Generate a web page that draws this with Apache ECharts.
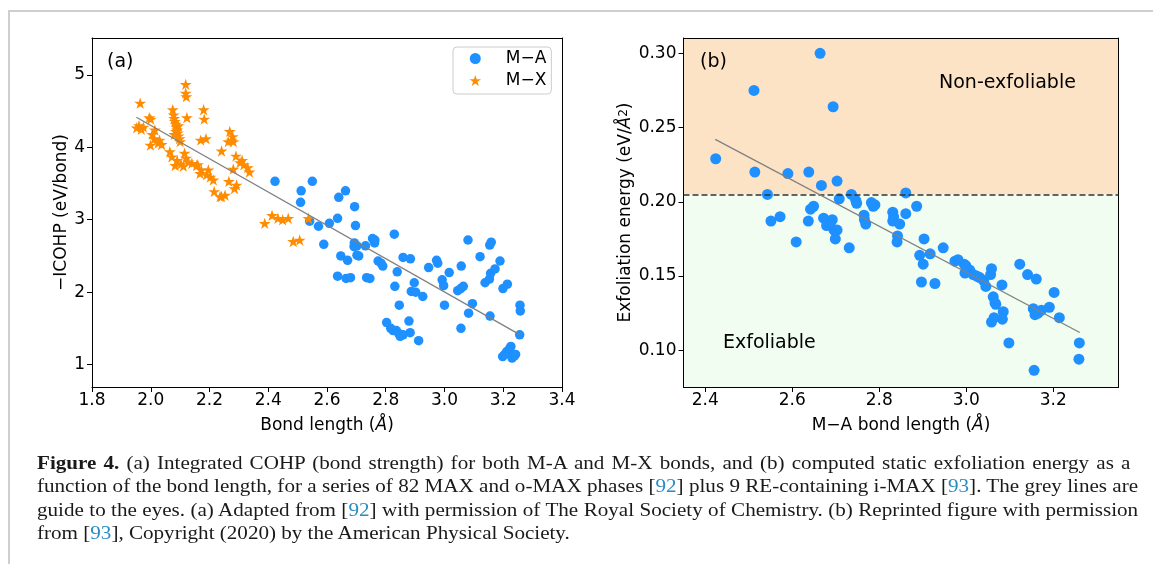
<!DOCTYPE html>
<html><head><meta charset="utf-8">
<script src="https://cdn.jsdelivr.net/npm/echarts@6/dist/echarts.min.js"></script>
<style>
html,body{margin:0;padding:0;background:#fff;}
#wrap{position:relative;width:1153px;height:564px;overflow:hidden;background:#fff;}
#chart{position:absolute;left:0;top:0;width:1153px;height:564px;}
#frameTop{position:absolute;left:8px;top:10px;width:1145px;height:0;border-top:2px solid #cfcfcf;}
#frameLeft{position:absolute;left:8px;top:10px;width:0;height:554px;border-left:2px solid #cfcfcf;}
#caption{position:absolute;left:37px;top:451px;width:992px;font-family:'Liberation Serif','DejaVu Serif',serif;font-size:19px;line-height:23.4px;color:#1a1a1a;transform:scaleX(1.11);transform-origin:0 0;}
#caption .ln{text-align:justify;text-align-last:justify;}
#caption .first{width:985px;}
#caption .last{text-align:left;text-align-last:left;}
#caption .r{color:#2b8cc4;}
</style></head>
<body>
<div id="wrap">
<div id="chart"></div>
<div id="frameTop"></div>
<div id="frameLeft"></div>
<div id="caption">
<div class="ln first"><b>Figure 4.</b> (a) Integrated COHP (bond strength) for both M-A and M-X bonds, and (b) computed static exfoliation energy as a</div>
<div class="ln">function of the bond length, for a series of 82 MAX and o-MAX phases [<span class="r">92</span>] plus 9 RE-containing i-MAX [<span class="r">93</span>]. The grey lines are</div>
<div class="ln">guide to the eyes. (a) Adapted from [<span class="r">92</span>] with permission of The Royal Society of Chemistry. (b) Reprinted figure with permission</div>
<div class="ln last">from [<span class="r">93</span>], Copyright (2020) by the American Physical Society.</div>
</div>
</div>
<script>
// ---- data ----
const seriesNames = ['M\u2212A', 'M\u2212X'];
const icohpMA = [[2.423,3.53],[2.512,3.40],[2.510,3.24],[2.550,3.53],[2.541,2.98],[2.571,2.91],[2.589,2.66],[2.608,2.95],[2.636,3.02],[2.640,3.31],[2.663,3.40],[2.647,2.50],[2.670,2.44],[2.636,2.22],[2.665,2.19],[2.680,2.20],[2.694,3.18],[2.697,2.92],[2.693,2.68],[2.702,2.64],[2.692,2.63],[2.702,2.51],[2.708,2.50],[2.731,2.64],[2.735,2.20],[2.746,2.19],[2.755,2.74],[2.762,2.68],[2.763,2.72],[2.774,2.43],[2.784,2.40],[2.790,2.36],[2.829,2.80],[2.831,2.08],[2.839,2.28],[2.846,1.82],[2.803,1.58],[2.817,1.50],[2.825,1.47],[2.836,1.47],[2.844,1.43],[2.849,1.39],[2.859,1.41],[2.879,1.60],[2.883,1.44],[2.859,2.48],[2.884,2.46],[2.897,2.13],[2.887,2.01],[2.902,2.00],[2.912,1.33],[2.926,1.94],[2.946,2.34],[2.973,2.44],[2.977,2.40],[2.992,2.17],[2.997,2.09],[3.000,1.82],[3.016,2.27],[3.045,2.02],[3.055,2.05],[3.064,2.08],[3.057,2.36],[3.056,1.50],[3.080,2.72],[3.082,1.71],[3.095,1.84],[3.121,2.49],[3.138,2.13],[3.153,2.18],[3.157,2.26],[3.172,2.32],[3.154,2.65],[3.159,2.69],[3.155,1.67],[3.189,2.43],[3.199,2.05],[3.214,2.11],[3.256,1.41],[3.257,1.82],[3.258,1.74],[3.198,1.11],[3.205,1.14],[3.212,1.18],[3.222,1.22],[3.226,1.25],[3.230,1.09],[3.238,1.12],[3.242,1.14]];
const icohpMX = [[1.964,4.61],[1.952,4.27],[1.960,4.30],[1.968,4.25],[1.975,4.28],[1.995,4.41],[2.000,4.39],[2.014,4.24],[2.005,4.18],[1.999,4.03],[2.012,4.12],[2.030,4.10],[2.037,4.04],[2.025,4.06],[2.075,4.52],[2.078,4.45],[2.080,4.40],[2.082,4.36],[2.085,4.32],[2.088,4.28],[2.090,4.24],[2.092,4.20],[2.095,4.16],[2.098,4.12],[2.100,4.08],[2.086,4.22],[2.094,4.30],[2.080,4.18],[2.119,4.87],[2.119,4.75],[2.121,4.70],[2.123,4.41],[2.180,4.52],[2.182,4.39],[2.170,4.10],[2.188,4.12],[2.065,3.94],[2.072,3.87],[2.083,3.75],[2.090,3.82],[2.103,3.77],[2.115,3.92],[2.120,3.85],[2.128,3.80],[2.111,3.74],[2.140,3.78],[2.156,3.75],[2.160,3.76],[2.172,3.69],[2.168,3.64],[2.190,3.62],[2.196,3.69],[2.203,3.59],[2.213,3.55],[2.241,3.95],[2.269,4.22],[2.275,4.10],[2.264,4.08],[2.281,4.08],[2.279,4.15],[2.290,3.88],[2.304,3.79],[2.311,3.82],[2.317,3.76],[2.330,3.72],[2.336,3.66],[2.281,3.70],[2.216,3.39],[2.241,3.32],[2.253,3.34],[2.236,3.32],[2.266,3.53],[2.285,3.43],[2.292,3.48],[2.388,2.95],[2.413,3.06],[2.433,3.02],[2.449,3.00],[2.468,3.02],[2.485,2.70],[2.507,2.72],[2.537,3.02]];
const exfoliation = [[2.664,0.300],[2.512,0.275],[2.694,0.264],[2.424,0.229],[2.514,0.220],[2.590,0.219],[2.638,0.220],[2.667,0.211],[2.703,0.214],[2.543,0.205],[2.736,0.205],[2.708,0.202],[2.746,0.201],[2.748,0.199],[2.782,0.1995],[2.786,0.197],[2.790,0.198],[2.861,0.206],[2.886,0.197],[2.861,0.192],[2.831,0.193],[2.833,0.190],[2.831,0.187],[2.847,0.185],[2.842,0.177],[2.841,0.173],[2.551,0.187],[2.572,0.190],[2.609,0.173],[2.637,0.187],[2.642,0.195],[2.649,0.197],[2.672,0.189],[2.679,0.184],[2.692,0.188],[2.696,0.181],[2.699,0.175],[2.703,0.181],[2.688,0.186],[2.731,0.169],[2.765,0.191],[2.766,0.188],[2.769,0.185],[2.893,0.164],[2.901,0.158],[2.897,0.146],[2.903,0.175],[2.917,0.165],[2.928,0.145],[2.947,0.169],[2.974,0.160],[2.981,0.161],[2.995,0.158],[2.999,0.157],[2.997,0.152],[3.008,0.154],[3.016,0.151],[3.024,0.150],[3.031,0.149],[3.040,0.147],[3.045,0.143],[3.056,0.151],[3.058,0.155],[3.062,0.136],[3.066,0.132],[3.068,0.131],[3.064,0.122],[3.058,0.119],[3.085,0.126],[3.083,0.121],[3.082,0.144],[3.098,0.105],[3.123,0.158],[3.141,0.151],[3.161,0.148],[3.154,0.128],[3.158,0.124],[3.165,0.125],[3.173,0.127],[3.191,0.129],[3.202,0.139],[3.214,0.122],[3.156,0.0865],[3.260,0.105],[3.259,0.094]];
const guideA = [[1.951,4.415],[3.256,1.413]];
const guideB = [[2.423,0.242],[3.261,0.112]];
const threshold = 0.205;
const xRangeA = [1.8, 3.4];
const yRangeA = [0.69, 5.51];
const xRangeB = [2.35, 3.35];
const yRangeB = [0.0753, 0.3103];
const xTicksA = [1.8, 2.0, 2.2, 2.4, 2.6, 2.8, 3.0, 3.2, 3.4];
const yTicksA = [1, 2, 3, 4, 5];
const xTicksB = [2.4, 2.6, 2.8, 3.0, 3.2];
const yTicksB = [0.10, 0.15, 0.20, 0.25, 0.30];

// ---- styling / layout ----
const FONT = 'DejaVu Sans';
const starPath = 'path://M0,-100L22.45,-30.9L95.11,-30.9L36.33,11.8L58.78,80.9L0,38.2L-58.78,80.9L-36.33,11.8L-95.11,-30.9L-22.45,-30.9Z';
const lblStyle = {fontFamily: FONT, fontSize: 17, color: '#000'};
const nameStyle = {fontFamily: FONT, fontSize: 17, color: '#000',
  rich: {it: {fontFamily: FONT, fontSize: 17, fontStyle: 'italic', color: '#000'},
         sup: {fontFamily: FONT, fontSize: 12, color: '#000', verticalAlign: 'top'}}};
const lineBlack = {show: true, lineStyle: {color: '#000', width: 1}};

function mainX(grid, range, ticks, dec, name) {
  return {type: 'value', gridIndex: grid, position: 'bottom', min: range[0], max: range[1], z: 3,
    axisLine: lineBlack, splitLine: {show: false},
    axisTick: {show: true, inside: false, length: 5, lineStyle: {color: '#000', width: 1}, customValues: ticks},
    axisLabel: Object.assign({show: true, margin: 5, customValues: ticks, formatter: v => Number(v).toFixed(dec)}, lblStyle),
    name: name, nameLocation: 'middle', nameGap: 30, nameTextStyle: nameStyle};
}
function mainY(grid, range, ticks, dec, name, gap) {
  return {type: 'value', gridIndex: grid, position: 'left', min: range[0], max: range[1], z: 3,
    axisLine: lineBlack, splitLine: {show: false},
    axisTick: {show: true, inside: false, length: 5, lineStyle: {color: '#000', width: 1}, customValues: ticks},
    axisLabel: Object.assign({show: true, margin: 7, customValues: ticks, formatter: v => Number(v).toFixed(dec)}, lblStyle),
    name: name, nameLocation: 'middle', nameRotate: 90, nameGap: gap, nameTextStyle: nameStyle};
}
function frameAxis(kind, grid, range) {
  return {type: 'value', gridIndex: grid, position: kind === 'x' ? 'top' : 'right', min: range[0], max: range[1], z: 3,
    axisLine: lineBlack, axisTick: {show: false}, axisLabel: {show: false}, splitLine: {show: false}};
}

const chart = echarts.init(document.getElementById('chart'), null, {renderer: 'canvas'});
chart.setOption({
  animation: false,
  backgroundColor: 'transparent',
  grid: [
    {left: 92, top: 38, width: 470, height: 349, containLabel: false},
    {left: 683.5, top: 38, width: 435, height: 349, containLabel: false}
  ],
  xAxis: [
    mainX(0, xRangeA, xTicksA, 1, 'Bond length ({it|\u00C5})'),
    frameAxis('x', 0, xRangeA),
    mainX(1, xRangeB, xTicksB, 1, 'M\u2212A bond length ({it|\u00C5})'),
    frameAxis('x', 1, xRangeB)
  ],
  yAxis: [
    mainY(0, yRangeA, yTicksA, 0, '\u2212ICOHP (eV/bond)', 15),
    frameAxis('y', 0, yRangeA),
    mainY(1, yRangeB, yTicksB, 2, 'Exfoliation energy (eV/{it|\u00C5}{sup|2})', 49),
    frameAxis('y', 1, yRangeB)
  ],
  legend: {
    data: [{name: seriesNames[0], icon: 'circle'}, {name: seriesNames[1], icon: starPath}],
    orient: 'vertical', left: 453, top: 47, selectedMode: false,
    itemWidth: 14, itemHeight: 11, itemGap: 5, symbolKeepAspect: true,
    padding: [3, 5, 5, 16.5],
    backgroundColor: 'rgba(255,255,255,0.8)', borderColor: '#cccccc', borderWidth: 1, borderRadius: 4,
    formatter: n => '{p| }{t|' + n + '}',
    textStyle: {rich: {p: {width: 18.5, fontSize: 17}, t: {fontFamily: FONT, fontSize: 17, color: '#000', lineHeight: 20}}}
  },
  graphic: [
    {type: 'text', z: 20, left: 107, top: 53, style: {text: '(a)', font: '19px "DejaVu Sans"', fill: '#000'}},
    {type: 'text', z: 20, left: 700, top: 53, style: {text: '(b)', font: '19px "DejaVu Sans"', fill: '#000'}},
    {type: 'text', z: 20, left: 939, top: 74, style: {text: 'Non-exfoliable', font: '19px "DejaVu Sans"', fill: '#000'}},
    {type: 'text', z: 20, left: 723, top: 334, style: {text: 'Exfoliable', font: '19px "DejaVu Sans"', fill: '#000'}}
  ],
  series: [
    {name: seriesNames[0], type: 'scatter', xAxisIndex: 0, yAxisIndex: 0, data: icohpMA, symbol: 'circle', symbolSize: 9.5,
      itemStyle: {color: '#1E90FF', opacity: 1}, z: 4, silent: true},
    {name: seriesNames[1], type: 'scatter', xAxisIndex: 0, yAxisIndex: 0, data: icohpMX, symbol: starPath, symbolKeepAspect: true, symbolSize: 12,
      itemStyle: {color: '#FF8C00', opacity: 1}, z: 4, silent: true},
    {name: 'guideA', type: 'line', xAxisIndex: 0, yAxisIndex: 0, data: guideA, symbol: 'none',
      lineStyle: {color: '#808080', width: 1.3}, z: 5, silent: true},
    {name: 'regions', type: 'line', xAxisIndex: 2, yAxisIndex: 2, data: guideB, symbol: 'none',
      lineStyle: {opacity: 0}, z: 1, silent: true,
      markArea: {silent: true, data: [
        [{yAxis: threshold, itemStyle: {color: '#FDE3C5'}}, {yAxis: yRangeB[1]}],
        [{yAxis: yRangeB[0], itemStyle: {color: '#F0FDF0'}}, {yAxis: threshold}]
      ]},
      markLine: {silent: true, precision: 5, symbol: ['none', 'none'], label: {show: false},
        lineStyle: {color: '#333333', width: 1.5, type: [6, 3]},
        data: [{yAxis: threshold}]}
    },
    {name: 'Exfoliation energy', type: 'scatter', xAxisIndex: 2, yAxisIndex: 2, data: exfoliation, symbol: 'circle', symbolSize: 11,
      itemStyle: {color: '#1E90FF', opacity: 1}, z: 4, silent: true},
    {name: 'guideB', type: 'line', xAxisIndex: 2, yAxisIndex: 2, data: guideB, symbol: 'none',
      lineStyle: {color: '#808080', width: 1.3}, z: 5, silent: true}
  ]
});
</script>
</body></html>
